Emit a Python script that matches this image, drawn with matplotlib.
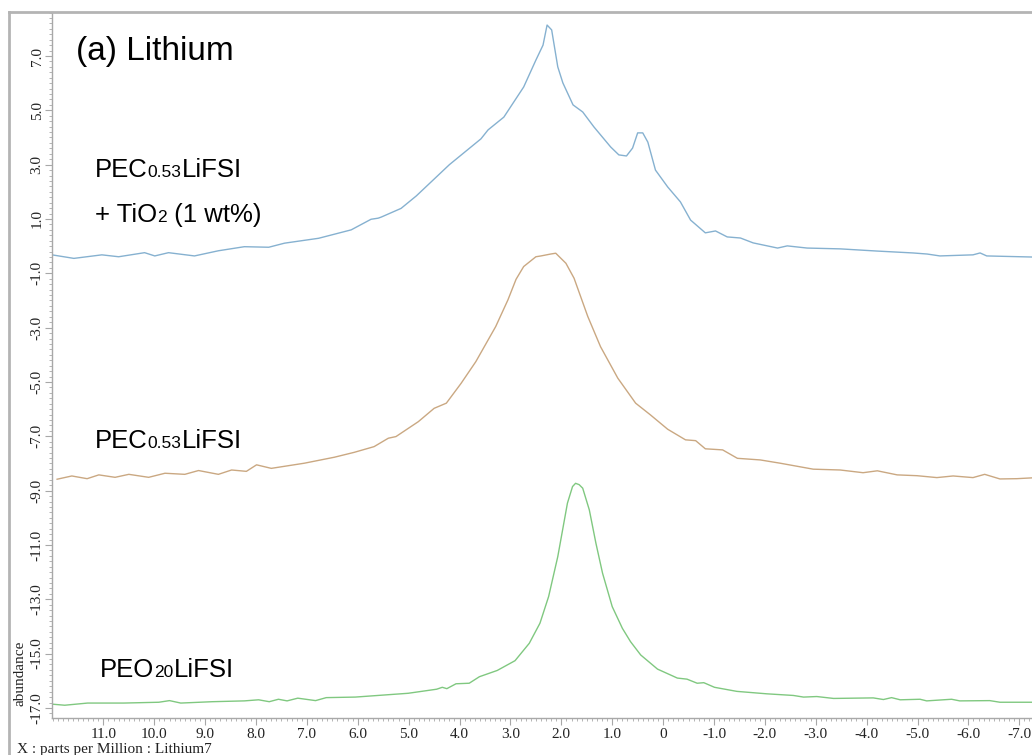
import matplotlib
matplotlib.use("Agg")
import matplotlib.pyplot as plt
from matplotlib.lines import Line2D
from matplotlib.ticker import MultipleLocator, FixedLocator, FuncFormatter

# PEC0.53LiFSI + TiO2 (1 wt%)
ppm_tio2 = [12.01, 11.58, 11.03, 10.70, 10.19, 9.99, 9.72, 9.21, 8.74, 8.23,
            7.75, 7.44, 6.77, 6.13, 5.74, 5.60, 5.54, 5.15, 4.85, 4.20,
            3.58, 3.44, 3.13, 2.74, 2.50, 2.36, 2.28, 2.19, 2.07, 1.97,
            1.77, 1.58, 1.36, 1.03, 0.87, 0.72, 0.60, 0.50, 0.40, 0.30,
            0.15, -0.09, -0.34, -0.54, -0.83, -1.03, -1.26, -1.52, -1.77, -2.25,
            -2.44, -2.83, -3.48, -4.20, -4.91, -5.19, -5.44, -6.09, -6.23, -6.36,
            -7.25]
int_tio2 = [-0.32, -0.45, -0.32, -0.39, -0.24, -0.36, -0.24, -0.36, -0.17, -0.02,
            -0.04, 0.11, 0.29, 0.60, 0.99, 1.03, 1.07, 1.39, 1.85, 3.00,
            3.95, 4.28, 4.75, 5.86, 6.85, 7.40, 8.14, 7.96, 6.60, 6.01,
            5.20, 4.94, 4.39, 3.65, 3.36, 3.32, 3.61, 4.17, 4.17, 3.83,
            2.80, 2.18, 1.63, 0.96, 0.49, 0.56, 0.34, 0.30, 0.12, -0.07,
            0.01, -0.07, -0.10, -0.18, -0.25, -0.29, -0.36, -0.32, -0.25, -0.36,
            -0.40]

# PEC0.53LiFSI
ppm_pec = [11.91, 11.62, 11.32, 11.09, 10.77, 10.50, 10.11, 9.79, 9.40, 9.13,
           8.74, 8.48, 8.19, 7.99, 7.70, 7.05, 6.46, 6.07, 5.68, 5.40,
           5.25, 4.81, 4.50, 4.26, 3.97, 3.68, 3.29, 3.05, 2.89, 2.74,
           2.50, 2.40, 2.21, 2.11, 1.91, 1.75, 1.48, 1.23, 0.89, 0.54,
           0.25, -0.09, -0.44, -0.64, -0.83, -1.17, -1.46, -1.91, -2.30, -2.95,
           -3.48, -3.93, -4.21, -4.60, -4.99, -5.38, -5.70, -6.09, -6.32, -6.62,
           -6.95, -7.25]
int_pec = [-8.58, -8.46, -8.56, -8.42, -8.51, -8.40, -8.51, -8.36, -8.40, -8.26,
           -8.40, -8.24, -8.29, -8.05, -8.18, -7.99, -7.77, -7.59, -7.38, -7.07,
           -7.01, -6.46, -5.97, -5.78, -5.05, -4.25, -2.96, -1.98, -1.22, -0.75,
           -0.39, -0.36, -0.29, -0.26, -0.63, -1.18, -2.59, -3.70, -4.86, -5.78,
           -6.21, -6.74, -7.13, -7.16, -7.46, -7.50, -7.81, -7.87, -7.99, -8.21,
           -8.24, -8.34, -8.27, -8.42, -8.45, -8.52, -8.46, -8.52, -8.40, -8.57,
           -8.56, -8.53]

# PEO20LiFSI
ppm_peo = [12.01, 11.76, 11.31, 10.60, 9.91, 9.70, 9.48, 8.86, 8.23, 7.95,
           7.74, 7.56, 7.39, 7.18, 6.83, 6.62, 6.05, 5.01, 4.45, 4.34,
           4.25, 4.07, 3.81, 3.61, 3.26, 2.91, 2.63, 2.42, 2.25, 2.07,
           1.88, 1.78, 1.72, 1.65, 1.58, 1.45, 1.32, 1.19, 1.00, 0.80,
           0.64, 0.44, 0.11, -0.28, -0.47, -0.67, -0.80, -1.01, -1.45, -2.04,
           -2.56, -2.76, -3.02, -3.35, -4.13, -4.33, -4.49, -4.66, -5.05, -5.18,
           -5.67, -5.83, -6.42, -6.62, -7.25]
int_peo = [-16.86, -16.90, -16.82, -16.82, -16.79, -16.73, -16.82, -16.77, -16.74, -16.70,
           -16.77, -16.68, -16.74, -16.64, -16.73, -16.62, -16.60, -16.46, -16.31, -16.24,
           -16.29, -16.11, -16.09, -15.85, -15.62, -15.26, -14.62, -13.88, -12.90, -11.43,
           -9.46, -8.85, -8.73, -8.78, -8.91, -9.71, -10.94, -12.04, -13.27, -14.07,
           -14.56, -15.05, -15.57, -15.90, -15.94, -16.09, -16.07, -16.24, -16.39, -16.48,
           -16.54, -16.60, -16.58, -16.65, -16.63, -16.69, -16.62, -16.70, -16.68, -16.74,
           -16.68, -16.74, -16.73, -16.79, -16.79]

x_major = list(range(-7, 12))
y_major = [7, 5, 3, 1, -1, -3, -5, -7, -9, -11, -13, -15, -17]

SANS = "Liberation Sans"
SERIF = "Liberation Serif"
GRAY = "#a8a8a8"

fig = plt.figure(figsize=(10.32, 7.55), dpi=100)
ax = fig.add_axes([52 / 1032, 1 - 718 / 755, 1 - 52 / 1032, (718 - 12) / 755])

ax.plot(ppm_tio2, int_tio2, color="#86b1d0", lw=1.0)
ax.plot(ppm_pec, int_pec, color="#caa882", lw=1.0)
ax.plot(ppm_peo, int_peo, color="#80c880", lw=1.0)

ax.set_xlim(12.01, -7.25)
ax.set_ylim(-17.37, 8.62)

for s in ("top", "right"):
    ax.spines[s].set_visible(False)
for s in ("left", "bottom"):
    ax.spines[s].set_color(GRAY)
    ax.spines[s].set_linewidth(1.0)

ax.xaxis.set_major_locator(FixedLocator(x_major))
ax.xaxis.set_minor_locator(MultipleLocator(0.1))
ax.yaxis.set_major_locator(FixedLocator(y_major))
ax.yaxis.set_minor_locator(MultipleLocator(0.2))
fmt = FuncFormatter(lambda v, p: "0" if abs(v) < 1e-9 else f"{v:.1f}")
ax.xaxis.set_major_formatter(fmt)
ax.yaxis.set_major_formatter(fmt)
ax.tick_params(which="major", length=5, width=0.8, color=GRAY, labelsize=11,
               labelcolor="#222222", pad=2)
ax.tick_params(which="minor", length=2.5, width=0.6, color=GRAY)
ax.tick_params(axis="y", which="major", pad=1)
for lab in ax.get_yticklabels():
    lab.set_rotation(90)
    lab.set_va("center")
    lab.set_family(SERIF)
for lab in ax.get_xticklabels():
    lab.set_family(SERIF)

# outer frame lines
fig.add_artist(Line2D([9 / 1032, 9 / 1032], [0, 1 - 12 / 755], transform=fig.transFigure,
                      color="#b4b4b4", lw=2))
fig.add_artist(Line2D([9 / 1032, 1], [1 - 12 / 755, 1 - 12 / 755], transform=fig.transFigure,
                      color="#b4b4b4", lw=2))

fig.text(17 / 1032, 1 - 750 / 755, "X : parts per Million : Lithium7", family=SERIF,
         fontsize=11, color="#222222", va="center", ha="left")
fig.text(20 / 1032, 1 - 673 / 755, "abundance", family=SERIF, fontsize=11,
         color="#222222", rotation=90, va="center", ha="center")


def rich_text(x_px, base_px, parts):
    # parts drawn one after the other on the same baseline
    fig.canvas.draw()
    r = fig.canvas.get_renderer()
    x = x_px
    for txt, size in parts:
        t = fig.text(x / 1032, 1 - base_px / 755, txt, family=SANS, fontsize=size,
                     color="black", va="baseline", ha="left")
        x = t.get_window_extent(renderer=r).x1


rich_text(76, 60, [("(a) Lithium", 24)])
rich_text(95, 177, [("PEC", 18.5), ("0.53", 12.5), ("LiFSI", 18.5)])
rich_text(95, 222, [("+ TiO", 18.5), ("2", 12.5), (" (1 wt%)", 18.5)])
rich_text(95, 448, [("PEC", 18.5), ("0.53", 12.5), ("LiFSI", 18.5)])
rich_text(100, 677, [("PEO", 18.5), ("20", 12.5), ("LiFSI", 18.5)])

fig.savefig("out.png", dpi=100)
